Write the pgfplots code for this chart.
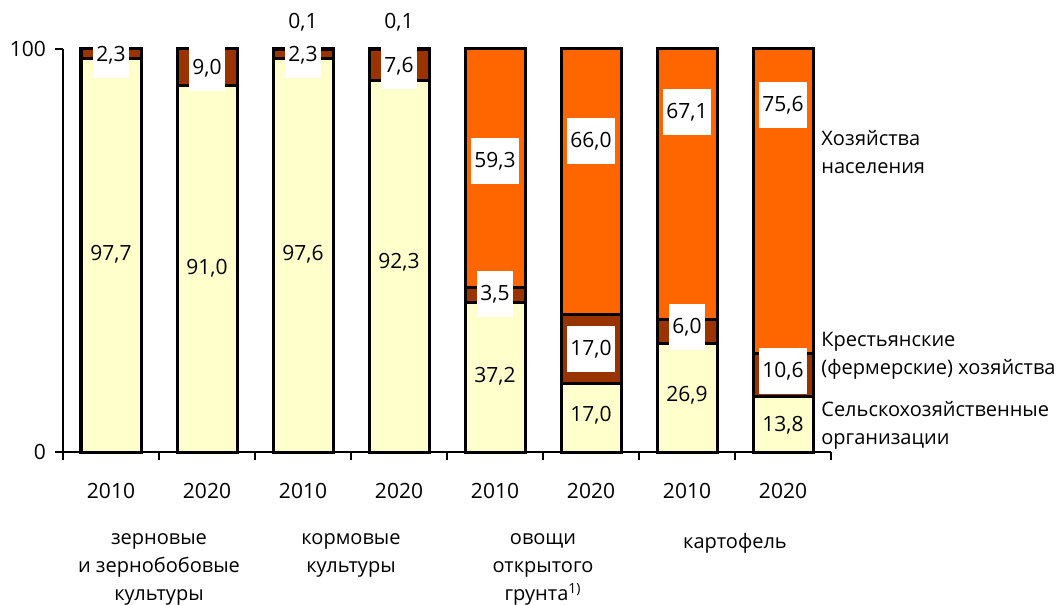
\documentclass[border=0pt]{standalone}
\usepackage{fontspec}
\setmainfont{Open Sans}
\usepackage{pgfplots}
\pgfplotsset{compat=1.18}
\definecolor{cYel}{HTML}{FFFFCC}
\definecolor{cBrn}{HTML}{993300}
\definecolor{cOrg}{HTML}{FF6600}

\begin{document}
\begin{tikzpicture}[font=\fontsize{10.5}{14}\selectfont,
  box/.style={fill=white, inner xsep=1.5pt, minimum height=23pt},
  nob/.style={inner sep=1pt},
  txt/.style={font=\fontsize{10}{14}\selectfont, inner sep=0pt}]
\begin{axis}[
  name=ax,
  scale only axis, width=384pt, height=201.5pt,
  ybar stacked, bar width=0.625,
  xmin=-0.5, xmax=7.5, ymin=0, ymax=100,
  axis x line*=bottom, axis y line*=left,
  axis line style={line width=1pt, -},
  xtick={-0.5,0.5,...,7.5},
  xticklabels={2010,2020,2010,2020,2010,2020,2010,2020},
  xticklabel style={xshift=24pt, yshift=-8pt},
  ytick={0,100},
  yticklabel style={xshift=-1pt},
  /pgf/number format/assume math mode=true,
  major tick length=4pt,
  tick align=outside,
  tick style={line width=1pt, black},
  clip=false,
  every axis plot/.append style={draw=black, line width=1.5pt},
]
% Сельскохозяйственные организации
\addplot[fill=cYel] coordinates {(0,97.7) (1,91.0) (2,97.6) (3,92.3) (4,37.2) (5,17.0) (6,26.9) (7,13.8)};
% Крестьянские (фермерские) хозяйства
\addplot[fill=cBrn] coordinates {(0,2.3) (1,9.0) (2,2.3) (3,7.6) (4,3.5) (5,17.0) (6,6.0) (7,10.6)};
% Хозяйства населения
\addplot[fill=cOrg] coordinates {(0,0) (1,0) (2,0.1) (3,0.1) (4,59.3) (5,66.0) (6,67.1) (7,75.6)};

% label anchors (labels are drawn after the axis, above the bars)
\coordinate (a1) at (axis cs:0,98.5);
\coordinate (a2) at (axis cs:0,49.1);
\coordinate (b1) at (axis cs:1,95.3);
\coordinate (b2) at (axis cs:1,45.7);
\coordinate (c0) at (axis cs:2,106.7);
\coordinate (c1) at (axis cs:2,98.5);
\coordinate (c2) at (axis cs:2,49.1);
\coordinate (d0) at (axis cs:3,106.7);
\coordinate (d1) at (axis cs:3,95.8);
\coordinate (d2) at (axis cs:3,47.1);
\coordinate (e0) at (axis cs:4,72.2);
\coordinate (e1) at (axis cs:4,39.2);
\coordinate (e2) at (axis cs:4,18.9);
\coordinate (f0) at (axis cs:5,77.2);
\coordinate (f1) at (axis cs:5,25.6);
\coordinate (f2) at (axis cs:5,9.2);
\coordinate (g0) at (axis cs:6,84.4);
\coordinate (g1) at (axis cs:6,31.0);
\coordinate (g2) at (axis cs:6,14.1);
\coordinate (h0) at (axis cs:7,86.1);
\coordinate (h1) at (axis cs:7,20.1);
\coordinate (h2) at (axis cs:7,6.7);

% series names on the right
\node[txt, anchor=west, align=left, xshift=-5pt] at (axis cs:7.5,74.4) {Хозяйства\\населения};
\node[txt, anchor=west, align=left, xshift=-5pt] at (axis cs:7.5,23.9) {Крестьянские\\(фермерские) хозяйства};
\node[txt, anchor=west, align=left, xshift=-5pt] at (axis cs:7.5,6.7) {Сельскохозяйственные\\организации};

% category names
\node[txt, anchor=north, align=center, yshift=-40.5pt] at (axis cs:0.5,0) {зерновые\\и зернобобовые\\культуры};
\node[txt, anchor=north, align=center, yshift=-40.5pt] at (axis cs:2.5,0) {кормовые\\культуры};
\node[txt, anchor=north, align=center, yshift=-40.5pt] at (axis cs:4.5,0) {овощи\\открытого\\грунта\textsuperscript{\scriptsize 1)}};
\node[txt, anchor=north, align=center, yshift=-40.5pt] at (axis cs:6.5,0) {картофель};
\end{axis}

\node[box] at (a1) {2,3};
\node[nob] at (a2) {97,7};
\node[box] at (b1) {9,0};
\node[nob] at (b2) {91,0};
\node[nob] at (c0) {0,1};
\node[box] at (c1) {2,3};
\node[nob] at (c2) {97,6};
\node[nob] at (d0) {0,1};
\node[box] at (d1) {7,6};
\node[nob] at (d2) {92,3};
\node[box] at (e0) {59,3};
\node[box] at (e1) {3,5};
\node[nob] at (e2) {37,2};
\node[box] at (f0) {66,0};
\node[box] at (f1) {17,0};
\node[nob] at (f2) {17,0};
\node[box] at (g0) {67,1};
\node[box] at (g1) {6,0};
\node[nob] at (g2) {26,9};
\node[box] at (h0) {75,6};
\node[box] at (h1) {10,6};
\node[nob] at (h2) {13,8};

\pgfresetboundingbox
\path ([xshift=-31.5pt,yshift=-76pt]ax.south west) rectangle ([xshift=113.5pt,yshift=24.5pt]ax.north east);
\end{tikzpicture}
\end{document}
